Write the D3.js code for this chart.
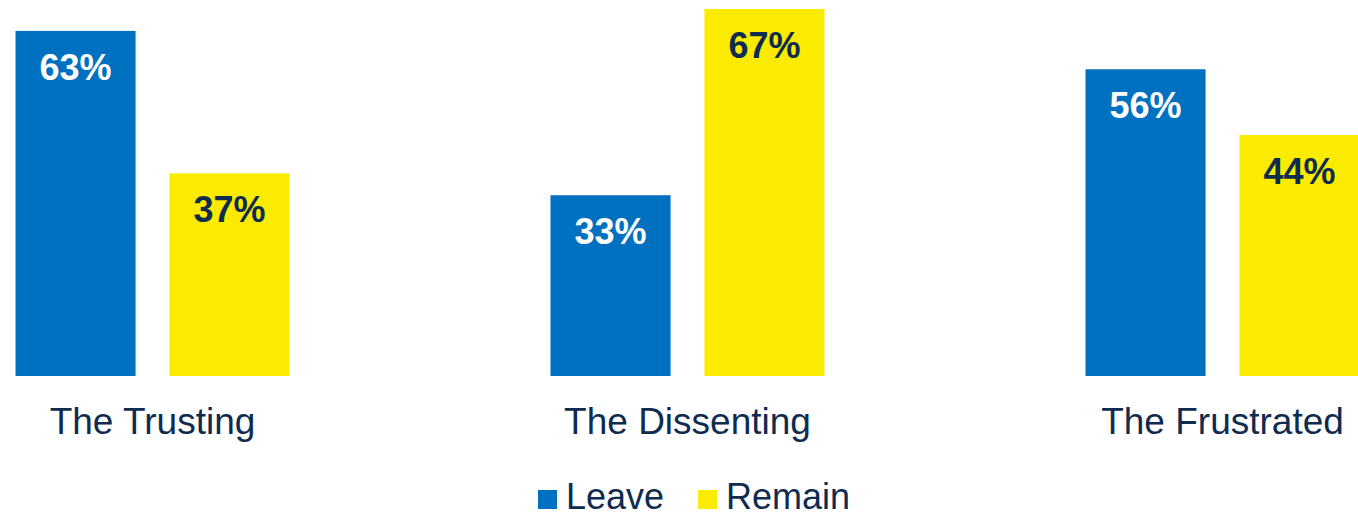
<!DOCTYPE html>
<html>
<head>
<meta charset="utf-8">
<script src="https://cdn.jsdelivr.net/npm/d3@7"></script>
<style>
  body { margin: 0; background: #fff; }
  svg { display: block; font-family: "Liberation Sans", Arial, sans-serif; }
</style>
</head>
<body>
<div id="chart"></div>
<script>
// categories and series
const categories = ["The Trusting", "The Dissenting", "The Frustrated"];
const seriesNames = ["Leave", "Remain"];
const leave = [63, 33, 56];
const remain = [37, 67, 44];

const width = 1358, height = 516;
const navy = "#0f2b50";
const colors = {Leave: "#0070c0", Remain: "#faeb00"};
const labelColors = {Leave: "#ffffff", Remain: navy};

const data = categories.map((c, i) => ({
  group: c,
  values: [{key: "Leave", value: leave[i]}, {key: "Remain", value: remain[i]}]
}));

const svg = d3.select("#chart")
  .append("svg")
  .attr("width", width)
  .attr("height", height);

// group centres
const x0 = d3.scalePoint()
  .domain(categories)
  .range([152.5, 1222.5]);

// bars within a group
const x1 = d3.scaleBand()
  .domain(seriesNames)
  .range([-137, 137])
  .paddingInner(0.22);

const y = d3.scaleLinear()
  .domain([0, d3.max([...leave, ...remain])])
  .range([376, 9]);

const groups = svg.selectAll("g.group")
  .data(data)
  .join("g")
  .attr("class", "group")
  .attr("transform", d => `translate(${x0(d.group)},0)`);

groups.selectAll("rect")
  .data(d => d.values)
  .join("rect")
  .attr("x", d => x1(d.key))
  .attr("y", d => y(d.value))
  .attr("width", x1.bandwidth())
  .attr("height", d => y(0) - y(d.value))
  .attr("fill", d => colors[d.key]);

groups.selectAll("text.val")
  .data(d => d.values)
  .join("text")
  .attr("class", "val")
  .attr("x", d => x1(d.key) + x1.bandwidth() / 2)
  .attr("y", d => y(d.value) + 49)
  .attr("text-anchor", "middle")
  .attr("font-size", 36)
  .attr("font-weight", "bold")
  .attr("fill", d => labelColors[d.key])
  .text(d => d.value + "%");

// category labels
svg.append("g")
  .selectAll("text")
  .data(categories)
  .join("text")
  .attr("x", d => x0(d))
  .attr("y", 434)
  .attr("text-anchor", "middle")
  .attr("font-size", 37)
  .attr("fill", navy)
  .text(d => d);

// legend
const legend = svg.append("g");
let lx = 538;
seriesNames.forEach(name => {
  legend.append("rect")
    .attr("x", lx)
    .attr("y", 490)
    .attr("width", 19)
    .attr("height", 19)
    .attr("fill", colors[name]);
  const t = legend.append("text")
    .attr("x", lx + 28)
    .attr("y", 509)
    .attr("font-size", 36)
    .attr("fill", navy)
    .text(name);
  lx += 28 + t.node().getComputedTextLength() + 34;
});
</script>
</body>
</html>
